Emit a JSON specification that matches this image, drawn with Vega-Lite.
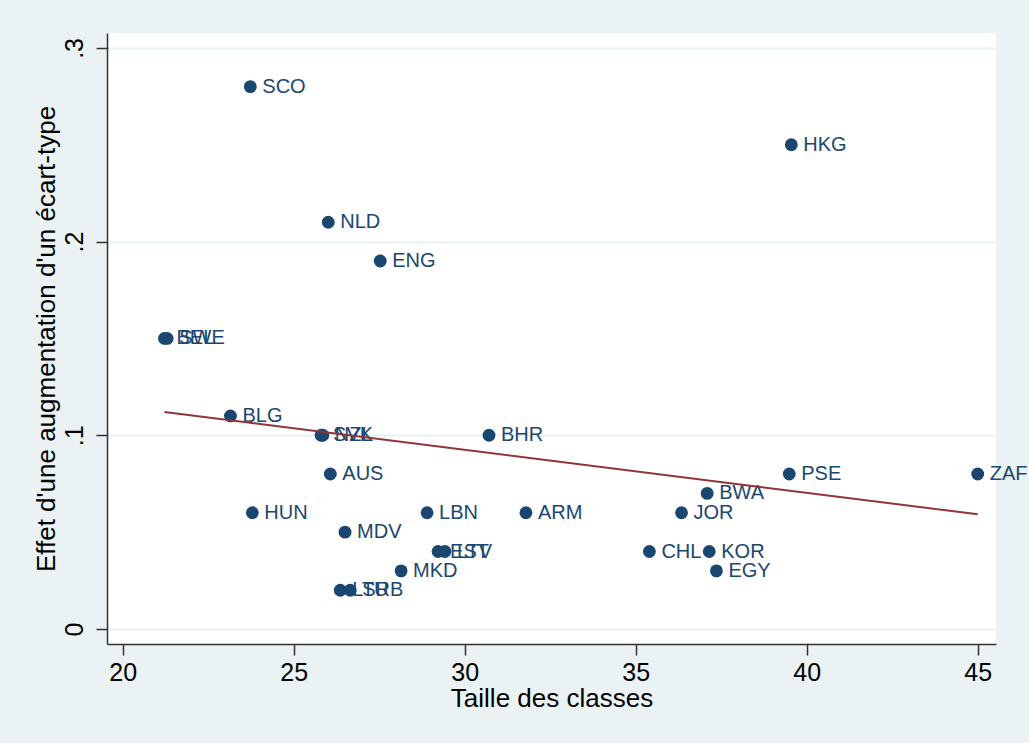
{
  "$schema": "https://vega.github.io/schema/vega-lite/v6.json",
  "autosize": {"type": "none"},
  "width": 889,
  "height": 611,
  "padding": {"left": 107, "top": 33, "right": 33, "bottom": 99},
  "background": "#EAF2F3",
  "view": {"fill": "white", "stroke": null},
  "config": {
    "font": "Liberation Sans",
    "axis": {
      "domainColor": "#333333",
      "tickColor": "#333333",
      "labelColor": "#000000",
      "titleColor": "#000000",
      "titleFontWeight": "normal",
      "labelFont": "Liberation Sans",
      "titleFont": "Liberation Sans"
    }
  },
  "data": {
    "values": [
      {"code": "SCO", "classe": 23.73, "effet": 0.28},
      {"code": "HKG", "classe": 39.55, "effet": 0.25},
      {"code": "NLD", "classe": 26.01, "effet": 0.21},
      {"code": "ENG", "classe": 27.53, "effet": 0.19},
      {"code": "BEL", "classe": 21.22, "effet": 0.15},
      {"code": "SWE", "classe": 21.3, "effet": 0.15},
      {"code": "BLG", "classe": 23.15, "effet": 0.11},
      {"code": "NZL", "classe": 25.85, "effet": 0.1},
      {"code": "SVK", "classe": 25.8, "effet": 0.1},
      {"code": "BHR", "classe": 30.71, "effet": 0.1},
      {"code": "AUS", "classe": 26.07, "effet": 0.08},
      {"code": "PSE", "classe": 39.49, "effet": 0.08},
      {"code": "ZAF", "classe": 45.0, "effet": 0.08},
      {"code": "BWA", "classe": 37.09, "effet": 0.07},
      {"code": "HUN", "classe": 23.79, "effet": 0.06},
      {"code": "LBN", "classe": 28.9, "effet": 0.06},
      {"code": "ARM", "classe": 31.79, "effet": 0.06},
      {"code": "JOR", "classe": 36.34, "effet": 0.06},
      {"code": "MDV", "classe": 26.5, "effet": 0.05},
      {"code": "EST", "classe": 29.22, "effet": 0.04},
      {"code": "LTV", "classe": 29.42, "effet": 0.04},
      {"code": "CHL", "classe": 35.4, "effet": 0.04},
      {"code": "KOR", "classe": 37.15, "effet": 0.04},
      {"code": "MKD", "classe": 28.14, "effet": 0.03},
      {"code": "EGY", "classe": 37.36, "effet": 0.03},
      {"code": "LTU", "classe": 26.36, "effet": 0.02},
      {"code": "SRB", "classe": 26.65, "effet": 0.02}
    ]
  },
  "encoding": {
    "x": {
      "field": "classe",
      "type": "quantitative",
      "scale": {"domain": [19.54, 45.535], "nice": false, "zero": false},
      "axis": {
        "title": "Taille des classes",
        "values": [20, 25, 30, 35, 40, 45],
        "grid": false,
        "tickSize": 11,
        "labelPadding": 5,
        "labelFontSize": 25,
        "titleFontSize": 26,
        "titlePadding": 0,
        "domainWidth": 1.5,
        "tickWidth": 1.5
      }
    },
    "y": {
      "field": "effet",
      "type": "quantitative",
      "scale": {"domain": [-0.00775, 0.3077], "nice": false, "zero": false},
      "axis": {
        "title": "Effet d'une augmentation d'un écart-type",
        "values": [0, 0.1, 0.2, 0.3],
        "labelExpr": "datum.value == 0 ? '0' : replace(format(datum.value, '.1f'), '0.', '.')",
        "grid": true,
        "gridColor": "#EAF2F3",
        "gridWidth": 2,
        "tickSize": 11,
        "labelPadding": 9,
        "labelAngle": -90,
        "labelAlign": "center",
        "labelBaseline": "bottom",
        "labelFontSize": 25,
        "titleFontSize": 26,
        "titlePadding": 3,
        "domainWidth": 1.5,
        "tickWidth": 1.5
      }
    }
  },
  "layer": [
    {
      "mark": {"type": "circle", "size": 165, "color": "#1A476F", "opacity": 1}
    },
    {
      "mark": {"type": "text", "align": "left", "baseline": "middle", "dx": 12, "fontSize": 20, "color": "#1A476F", "font": "Liberation Sans"},
      "encoding": {"text": {"field": "code"}}
    },
    {
      "transform": [{"regression": "effet", "on": "classe"}],
      "mark": {"type": "line", "color": "#90353B", "strokeWidth": 2}
    }
  ]
}
